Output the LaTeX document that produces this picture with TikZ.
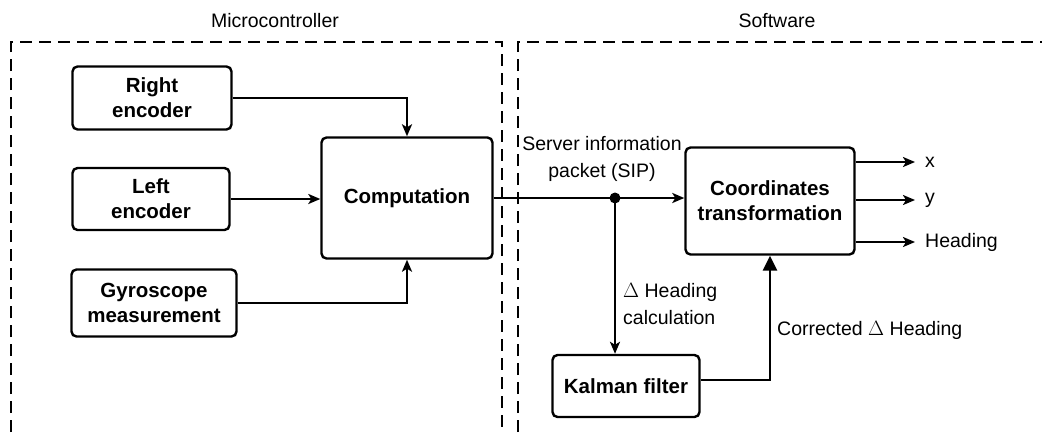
\documentclass[tikz,border=0pt]{standalone}
\usepackage{fontspec}
\setmainfont{Liberation Sans}
\usetikzlibrary{arrows.meta}
\begin{document}
\begin{tikzpicture}[x=1pt,y=-1pt,
 blk/.style={draw, line width=2.4pt, rounded corners=5pt, font=\fontsize{20.5}{25}\selectfont\bfseries, align=center, inner sep=0pt},
 lbl/.style={font=\fontsize{19.5}{27}\selectfont, inner sep=0pt},
 wire/.style={line width=2.8pt},
 conn/.style={line width=2.8pt, -{Stealth[length=12pt,width=10pt,inset=3pt]}},
 bigconn/.style={line width=2.8pt, -{Triangle[length=15pt,width=14pt]}},
 zone/.style={line width=2.6pt, dash pattern=on 12pt off 7pt}]
\useasboundingbox (0,0) rectangle (1042,432);
% zones
\draw[zone] (11,432) -- (11,42) -- (502,42) -- (502,432);
\draw[zone] (518,432) -- (518,42) -- (1042,42);
\node[lbl] (mclabel) at (275,21) {Microcontroller};
\node[lbl] (swlabel) at (777,21) {Software};
% blocks
\node[blk, minimum width=159pt, minimum height=63pt] (rightenc) at (152,98) {Right\\encoder};
\node[blk, minimum width=157pt, minimum height=62pt] (leftenc) at (151,199) {Left\\encoder};
\node[blk, minimum width=165pt, minimum height=67pt] (gyro) at (154,303) {Gyroscope\\measurement};
\node[blk, minimum width=171pt, minimum height=121pt] (comp) at (407,198) {Computation};
\node[blk, minimum width=169pt, minimum height=107pt] (coord) at (770,201) {Coordinates\\transformation};
\node[blk, minimum width=147pt, minimum height=62pt] (kalman) at (626,386) {Kalman filter};
\node[circle, fill, inner sep=0pt, minimum size=11pt] (sip) at (615,198) {};
% outputs
\node[lbl, anchor=west] (ox) at (925,162) {x};
\node[lbl, anchor=west] (oy) at (925,200) {y};
\node[lbl, anchor=west] (oh) at (925,242) {Heading};
\coordinate (xe) at (915,162);
\coordinate (ye) at (915,200);
\coordinate (he) at (915,242);
% labels
\node[lbl, align=center] (siplabel) at (602,158.5) {Server information\\packet (SIP)};
\node[lbl, align=left, anchor=west] (dhlabel) at (623,304) {$\Delta$ Heading\\calculation};
\node[lbl, anchor=west] (corrlabel) at (777,330) {Corrected $\Delta$ Heading};
% connectors
\draw[conn] (rightenc.east) -| (comp.north);
\draw[conn] (leftenc.east) -- (leftenc.east -| comp.west);
\draw[conn] (gyro.east) -| (comp.south);
\draw[wire] (comp.east) -- (sip.center);
\draw[conn] (sip.center) -- (sip.center -| coord.west);
\draw[conn] (sip.center) -- (sip.center |- kalman.north);
\draw[conn] (coord.east |- xe) -- (xe);
\draw[conn] (coord.east |- ye) -- (ye);
\draw[conn] (coord.east |- he) -- (he);
\draw[bigconn] ([yshift=6pt]kalman.east) -| (coord.south);
\end{tikzpicture}
\end{document}
